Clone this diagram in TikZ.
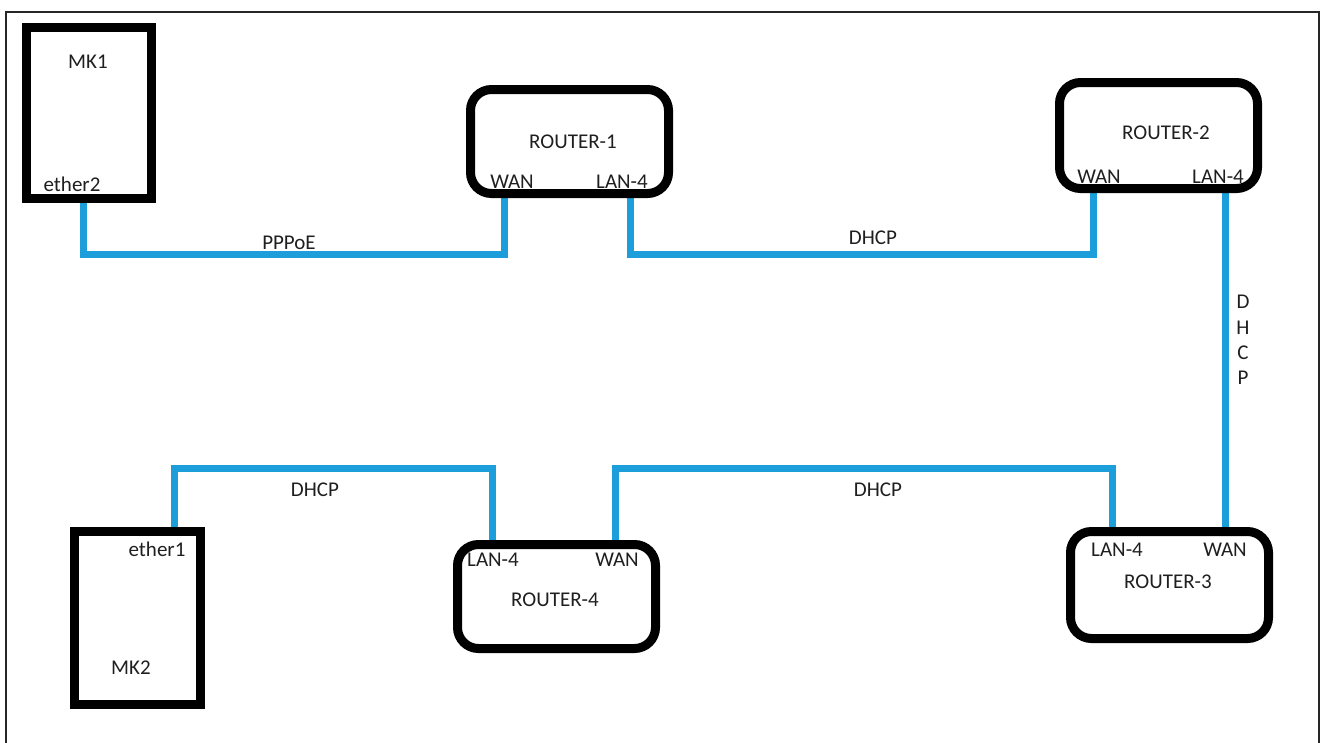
\documentclass[tikz,border=0pt]{standalone}
\usepackage{fontspec}
\setmainfont{Carlito}
\begin{document}
\definecolor{cableblue}{RGB}{28,158,218}
\tikzset{
  device/.style={draw=black, line width=9pt, rectangle, inner sep=0pt},
  router/.style={device, rounded corners=21pt},
  cable/.style={draw=cableblue, line width=7pt},
  lbl/.style={inner sep=0pt, font=\fontsize{21}{25}\selectfont, text=black!88},
}
\begin{tikzpicture}[x=1pt, y=-1pt]
\useasboundingbox (0,0) rectangle (1325,742);
% outer frame, open at the bottom edge
\draw[line width=2pt, black!85] (6,745) -- (6,12) -- (1319,12) -- (1319,745);

% port points on the device edges
\coordinate (mk1e2)  at (83,198.5);
\coordinate (r1wan)  at (504,193.5);
\coordinate (r1lan)  at (630,193.5);
\coordinate (r2wan)  at (1093,188.5);
\coordinate (r2lan)  at (1225,188.5);
\coordinate (r3wan)  at (1225,531.5);
\coordinate (r3lan)  at (1112,531.5);
\coordinate (r4wan)  at (615,544.5);
\coordinate (r4lan)  at (492,544.5);
\coordinate (mk2e1)  at (174,531);
% cable bends
\coordinate (run1) at (300,254);
\coordinate (run2) at (860,254);
\coordinate (run3) at (860,468);
\coordinate (run4) at (320,468);

% cables
\draw[cable] (mk1e2) |- (run1) -| (r1wan);
\draw[cable] (r1lan) |- (run2) -| (r2wan);
\draw[cable] (r2lan) -- (r3wan);
\draw[cable] (r3lan) |- (run3) -| (r4wan);
\draw[cable] (r4lan) |- (run4) -| (mk2e1);

% devices
\node[device, minimum width=125pt, minimum height=171pt] (mk1) at (89,113) {};
\node[router, minimum width=198pt, minimum height=104pt] (r1) at (569.5,141.5) {};
\node[router, minimum width=198pt, minimum height=106pt] (r2) at (1158.5,135.5) {};
\node[router, minimum width=198pt, minimum height=107pt] (r3) at (1169.5,585) {};
\node[router, minimum width=198pt, minimum height=104pt] (r4) at (556.5,596.5) {};
\node[device, minimum width=126pt, minimum height=173pt] (mk2) at (137,617.5) {};

% device and port labels
\node[lbl] (tmk1) at (88,62) {MK1};
\node[lbl] (tmk1p) at (72,184) {ether2};
\node[lbl] (tr1) at (573,142) {ROUTER-1};
\node[lbl] (tr1w) at (512,182) {WAN};
\node[lbl] (tr1l) at (622,182) {LAN-4};
\node[lbl] (tr2) at (1166,133) {ROUTER-2};
\node[lbl] (tr2w) at (1099,177) {WAN};
\node[lbl] (tr2l) at (1218,177) {LAN-4};
\node[lbl] (tr3) at (1168,582) {ROUTER-3};
\node[lbl] (tr3l) at (1117,550) {LAN-4};
\node[lbl] (tr3w) at (1225,550) {WAN};
\node[lbl] (tr4) at (555,600) {ROUTER-4};
\node[lbl] (tr4l) at (493,560) {LAN-4};
\node[lbl] (tr4w) at (617,560) {WAN};
\node[lbl] (tmk2p) at (157,549) {ether1};
\node[lbl] (tmk2) at (131,668) {MK2};

% link labels
\node[lbl] (l1) at (289,243) {PPPoE};
\node[lbl] (l2) at (873,238) {DHCP};
\node[lbl, align=center, font=\fontsize{21}{25.3}\selectfont] (l3) at (1243,340) {D\\H\\C\\P};
\node[lbl] (l4) at (315,490) {DHCP};
\node[lbl] (l5) at (878,490) {DHCP};
\end{tikzpicture}
\end{document}
